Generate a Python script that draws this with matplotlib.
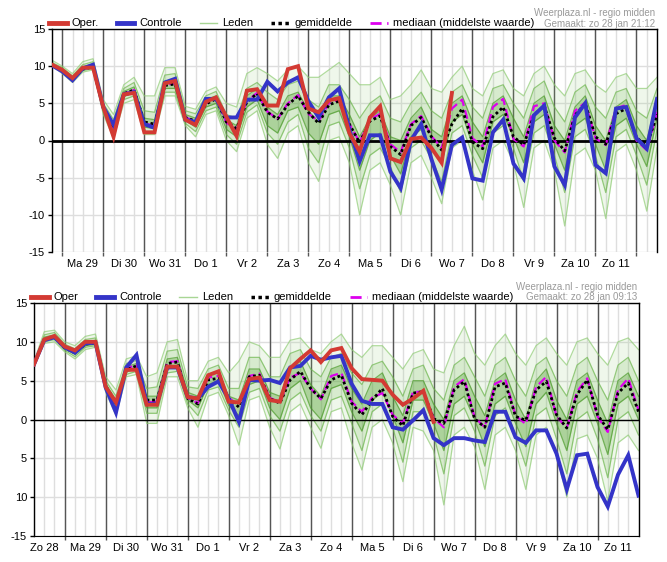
import numpy as np
import matplotlib
matplotlib.use('Agg')
import matplotlib.pyplot as plt
from matplotlib.lines import Line2D

plt.rcParams['font.family'] = ['Liberation Sans', 'DejaVu Sans']

# ---------------- data: top panel (6-hourly, start Zo 28 18:00) ----------------
top_start_day = -0.25
top_days = ['Ma 29', 'Di 30', 'Wo 31', 'Do 1', 'Vr 2', 'Za 3', 'Zo 4', 'Ma 5',
            'Di 6', 'Wo 7', 'Do 8', 'Vr 9', 'Za 10', 'Zo 11']
top_oper = [10.2, 9.5, 8.4, 9.8, 9.8, 4.5, 0.5, 6.2, 6.4, 1.1,
            1.1, 7.7, 8.0, 2.8, 2.1, 5.2, 5.8, 3.2, 0.6, 6.7,
            6.9, 4.7, 4.7, 9.6, 10.0, 4.3, 3.8, 5.4, 5.7, 1.0,
            -1.5, 3.1, 4.6, -2.4, -2.9, 0.2, 0.4, -1.0, -3.0, 6.4]
top_ctrl = [10.1, 9.3, 8.1, 9.7, 10.2, 4.5, 2.1, 6.2, 6.5, 2.2,
            1.7, 7.8, 8.3, 2.8, 2.5, 5.6, 5.6, 3.1, 3.1, 5.5,
            5.5, 7.9, 6.6, 7.8, 8.5, 5.3, 3.1, 5.8, 7.0, 1.5,
            -2.8, 0.7, 0.7, -4.2, -6.4, 0.0, 2.2, -2.5, -6.6, -0.6,
            0.4, -5.1, -5.4, 1.1, 2.8, -3.1, -5.1, 3.4, 4.7, -3.5,
            -6.0, 3.1, 5.0, -3.3, -4.4, 4.3, 4.5, 0.3, -1.1, 5.6]
top_mean = [10.1, 9.4, 8.2, 9.6, 9.9, 4.4, 1.8, 6.3, 6.8, 2.5,
            2.2, 7.4, 7.6, 3.1, 2.6, 4.9, 5.6, 2.5, 1.6, 5.2,
            6.3, 3.8, 2.9, 4.8, 6.0, 3.8, 2.3, 4.8, 5.3, 2.2,
            -0.3, 2.6, 3.3, -0.8, -1.9, 2.0, 3.1, 0.5, -1.3, 2.2,
            4.3, -0.2, -1.1, 3.2, 4.5, 0.5, -0.6, 3.4, 4.7, 0.3,
            -1.4, 3.4, 5.0, 0.5, -0.5, 3.6, 4.3, 0.4, -0.8, 3.5]
top_median = [10.1, 9.4, 8.2, 9.6, 9.9, 4.4, 1.7, 6.3, 6.8, 2.3,
              2.0, 7.5, 7.7, 3.1, 2.6, 5.0, 5.7, 2.4, 1.5, 5.3,
              6.4, 3.9, 2.9, 5.0, 6.1, 3.6, 2.6, 5.0, 5.5, 2.2,
              -0.2, 2.8, 3.6, -0.5, -1.6, 2.2, 3.3, 0.6, -1.0, 4.3,
              5.5, 0.3, -0.8, 4.5, 5.6, 0.2, -0.8, 4.6, 5.0, 0.0,
              -1.6, 4.0, 5.1, 0.3, -0.6, 4.3, 4.8, 0.0, -1.3, 3.8]
top_min = [10.0, 9.0, 7.8, 9.2, 9.5, 3.5, 0.3, 5.0, 5.5, 0.8,
           0.8, 6.0, 6.0, 2.0, 0.5, 3.5, 4.0, 0.0, -1.5, 3.0,
           4.0, -0.5, -2.4, 1.0, 2.0, -3.0, -5.5, 0.0, 0.5, -3.0,
           -10.0, -4.0, -3.0, -6.0, -10.0, -3.0, -2.0, -5.0, -8.5, -1.0,
           0.0, -4.0, -8.0, -1.0, 0.0, -3.0, -9.0, -1.0, 0.0, -4.0,
           -11.5, -2.0, -1.0, -4.0, -10.5, -1.5, -0.5, -4.0, -9.5, -1.0]
top_p10 = [10.0, 9.2, 8.0, 9.4, 9.7, 3.8, 0.8, 5.5, 6.0, 1.2,
           1.2, 6.5, 6.5, 2.3, 1.2, 4.0, 4.5, 0.8, -0.5, 3.8,
           4.8, 1.0, -0.5, 2.5, 3.5, -1.0, -3.0, 2.0, 2.5, -1.0,
           -6.5, -2.0, -1.0, -3.5, -7.0, -1.0, 0.0, -2.5, -5.5, 1.0,
           2.0, -2.0, -5.0, 1.0, 2.0, -1.0, -5.5, 1.0, 2.0, -2.0,
           -7.0, 0.5, 1.5, -2.0, -7.0, 0.5, 1.5, -2.0, -6.0, 1.5]
top_p25 = [10.1, 9.3, 8.2, 9.6, 9.9, 4.1, 1.3, 5.9, 6.5, 1.8,
           1.6, 7.0, 7.0, 2.7, 1.8, 4.5, 5.0, 1.5, 0.5, 4.5,
           5.5, 2.0, 1.0, 4.0, 4.5, 1.0, -0.5, 3.5, 4.0, 0.5,
           -4.0, 0.0, 1.0, -2.0, -4.5, 0.5, 1.5, -1.0, -3.0, 2.5,
           3.5, -0.5, -3.0, 2.5, 3.5, 0.5, -3.0, 2.5, 3.5, -0.5,
           -4.0, 2.0, 3.0, -0.5, -4.0, 2.0, 3.0, -0.5, -3.5, 3.0]
top_p75 = [10.3, 9.6, 8.5, 9.9, 10.3, 4.6, 2.2, 6.6, 7.2, 3.0,
           2.8, 8.0, 8.2, 3.5, 3.0, 5.5, 6.0, 2.8, 2.0, 6.0,
           7.0, 4.5, 3.5, 6.0, 6.5, 4.0, 2.5, 6.0, 6.0, 3.5,
           0.5, 3.0, 4.0, 0.5, 0.0, 3.0, 4.5, 1.5, 0.5, 5.0,
           6.0, 2.5, 0.5, 5.0, 6.0, 3.0, 0.5, 5.0, 6.0, 2.0,
           0.0, 4.5, 6.0, 2.0, 0.0, 4.5, 5.5, 2.0, 0.0, 5.5]
top_p90 = [10.5, 9.8, 8.7, 10.2, 10.6, 5.0, 2.8, 7.0, 7.8, 4.0,
           3.8, 8.8, 9.0, 4.0, 3.6, 6.0, 6.6, 3.5, 3.0, 7.0,
           7.8, 6.5, 5.5, 7.5, 8.0, 5.5, 4.5, 7.5, 7.5, 5.5,
           3.0, 5.0, 6.0, 3.0, 2.5, 5.0, 6.5, 4.0, 3.0, 6.5,
           7.5, 4.5, 3.0, 7.0, 7.5, 5.0, 3.0, 7.0, 8.0, 4.5,
           2.5, 6.5, 7.5, 4.5, 3.0, 6.5, 7.0, 4.0, 3.0, 7.0]
top_max = [10.8, 10.0, 9.0, 10.6, 11.0, 5.5, 3.5, 7.5, 8.5, 6.0,
           6.0, 9.8, 9.8, 4.6, 4.2, 6.6, 7.2, 5.0, 4.5, 9.0,
           9.8, 9.0, 8.0, 9.5, 10.0, 8.5, 8.5, 9.5, 10.5, 9.0,
           7.5, 7.5, 8.5, 5.5, 6.0, 7.5, 9.5, 7.0, 6.5, 8.5,
           10.0, 7.0, 6.0, 9.0, 9.5, 7.0, 6.0, 9.0, 10.0, 7.5,
           6.0, 9.0, 9.5, 7.5, 6.5, 8.5, 9.0, 7.0, 7.0, 8.5]

# ---------------- data: bottom panel (6-hourly, start Zo 28 06:00) ----------------
bot_start_day = -0.75
bot_days = ['Zo 28', 'Ma 29', 'Di 30', 'Wo 31', 'Do 1', 'Vr 2', 'Za 3', 'Zo 4',
            'Ma 5', 'Di 6', 'Wo 7', 'Do 8', 'Vr 9', 'Za 10', 'Zo 11']
bot_oper = [7.1, 10.3, 10.75, 9.4, 8.9, 10.0, 10.0, 4.2, 2.2, 6.4,
            6.4, 1.9, 1.9, 6.8, 6.8, 2.9, 2.7, 5.7, 6.2, 2.3,
            2.2, 5.2, 5.4, 2.5, 2.3, 6.6, 7.8, 8.9, 7.4, 8.9,
            9.2, 6.6, 5.2, 5.1, 5.0, 3.2, 1.9, 2.7, 3.7, -0.3]
bot_ctrl = [7.1, 10.2, 10.6, 9.3, 8.6, 9.8, 9.9, 4.1, 0.9, 6.7,
            8.3, 2.0, 2.0, 6.7, 6.7, 2.9, 2.7, 4.2, 4.9, 2.7,
            -0.3, 5.1, 5.0, 5.1, 4.7, 6.7, 6.9, 8.2, 7.7, 8.0,
            8.2, 4.6, 2.4, 2.0, 2.0, -1.0, -1.3, -0.1, 1.2, -2.4,
            -3.3, -2.4, -2.4, -2.7, -2.9, 1.0, 1.0, -2.3, -3.0, -1.4,
            -1.4, -4.4, -9.0, -4.6, -4.4, -8.7, -11.2, -7.1, -4.6, -9.8]
bot_mean = [7.1, 10.3, 10.6, 9.2, 8.6, 9.7, 9.9, 4.3, 2.1, 6.4,
            6.9, 2.5, 2.5, 7.2, 7.4, 2.7, 2.0, 5.1, 5.3, 2.7,
            1.6, 5.5, 5.7, 2.7, 2.1, 5.1, 6.2, 4.0, 2.7, 5.1,
            5.7, 2.1, 0.6, 2.5, 4.0, 0.4, -0.8, 3.4, 3.6, 0.1,
            -0.5, 3.8, 4.9, 0.1, -1.0, 4.2, 4.7, 0.4, -0.1, 3.8,
            4.9, 0.6, -1.1, 3.2, 5.1, 0.6, -1.3, 3.4, 4.7, 1.0]
bot_median = [7.1, 10.3, 10.6, 9.2, 8.6, 9.7, 9.9, 4.3, 2.0, 6.5,
              7.1, 2.2, 2.3, 7.4, 7.5, 2.8, 2.1, 5.4, 5.6, 2.8,
              1.8, 5.6, 5.9, 2.8, 2.2, 5.4, 6.0, 4.0, 2.6, 5.6,
              6.0, 2.3, 1.0, 2.8, 3.4, 0.6, -0.5, 3.6, 3.5, 0.2,
              -1.0, 4.2, 5.2, 0.3, -1.0, 4.6, 5.2, 0.5, -0.6, 4.2,
              5.5, 0.4, -1.1, 3.6, 5.3, 0.4, -1.6, 3.8, 5.3, 1.2]
bot_min = [6.8, 9.8, 10.0, 8.7, 7.8, 9.0, 9.3, 3.5, 0.5, 5.5,
           5.8, -0.5, -0.5, 5.5, 5.5, 1.5, -1.0, 3.0, 3.5, 0.5,
           -3.3, 2.5, 3.0, -1.0, -3.8, 1.0, 2.0, -1.0, -3.7, 1.0,
           1.5, -3.0, -6.5, -1.0, 0.0, -3.0, -8.0, -1.0, -1.5, -4.0,
           -11.0, -2.0, -1.0, -3.5, -9.0, -2.0, -1.0, -4.0, -9.0, -2.0,
           -1.0, -4.5, -10.0, -2.5, -2.0, -5.0, -10.5, -3.0, -2.0, -4.0]
bot_p10 = [7.0, 10.0, 10.3, 8.9, 8.1, 9.3, 9.5, 3.8, 1.2, 5.8,
           6.2, 0.8, 0.8, 6.0, 6.2, 2.0, 0.5, 3.8, 4.2, 1.2,
           -1.0, 3.5, 4.0, 0.5, -1.5, 2.5, 3.5, 0.5, -1.5, 2.5,
           3.0, -0.5, -4.0, 1.0, 2.0, -1.0, -5.5, 1.0, 1.0, -2.0,
           -7.0, 0.5, 1.5, -1.5, -6.0, 0.5, 1.5, -2.0, -6.0, 0.5,
           1.5, -2.5, -7.0, 0.0, 1.0, -2.5, -7.5, 0.0, 1.0, -2.0]
bot_p25 = [7.0, 10.2, 10.5, 9.1, 8.4, 9.5, 9.7, 4.1, 1.7, 6.1,
           6.6, 1.5, 1.5, 6.5, 6.8, 2.5, 1.5, 4.5, 5.0, 1.8,
           0.5, 4.5, 5.0, 1.5, 0.0, 4.0, 5.0, 1.5, 0.0, 4.0,
           4.5, 1.0, -1.5, 2.5, 3.5, 0.5, -3.0, 2.5, 2.5, -0.5,
           -4.0, 2.0, 3.0, 0.0, -3.5, 2.0, 3.0, -0.5, -3.5, 2.0,
           3.5, -0.5, -4.0, 2.0, 3.0, -0.5, -4.5, 2.0, 3.0, 0.0]
bot_p75 = [7.2, 10.6, 10.9, 9.5, 8.8, 10.0, 10.2, 4.6, 2.5, 6.8,
           7.2, 3.0, 3.0, 7.8, 8.0, 3.5, 3.0, 5.8, 6.2, 3.0,
           2.5, 6.5, 6.5, 3.5, 3.0, 6.5, 7.5, 4.5, 3.0, 6.5,
           7.0, 4.0, 2.0, 5.0, 6.0, 3.0, 0.5, 5.0, 5.0, 2.0,
           0.0, 5.0, 6.0, 3.0, 0.5, 5.0, 6.0, 2.5, 0.0, 5.0,
           6.5, 2.5, 0.0, 5.0, 6.0, 2.5, -0.5, 5.0, 6.0, 3.0]
bot_p90 = [7.3, 10.9, 11.2, 9.7, 9.1, 10.3, 10.5, 5.0, 3.0, 7.2,
           7.6, 4.0, 4.2, 8.8, 9.0, 4.2, 4.0, 6.5, 7.0, 4.0,
           4.0, 8.0, 8.0, 5.5, 5.5, 8.5, 9.0, 6.5, 5.5, 8.0,
           8.5, 6.0, 4.5, 7.0, 7.5, 5.5, 3.0, 6.5, 7.0, 4.0,
           2.5, 7.0, 8.0, 5.5, 3.0, 7.0, 8.0, 5.0, 3.0, 7.0,
           8.0, 5.0, 3.0, 7.0, 8.0, 5.0, 2.5, 7.0, 8.0, 5.0]
bot_max = [7.5, 11.3, 11.5, 10.0, 9.5, 10.7, 11.0, 5.5, 3.8, 7.8,
           8.2, 5.5, 6.0, 10.0, 10.3, 5.0, 5.0, 7.5, 8.0, 6.0,
           7.5, 10.0, 9.5, 8.0, 8.0, 10.2, 10.5, 9.0, 8.5, 10.0,
           11.0, 9.0, 8.0, 9.5, 9.5, 8.0, 6.5, 8.5, 9.0, 6.5,
           6.0, 9.5, 12.0, 8.5, 7.0, 9.5, 11.0, 8.5, 7.0, 9.5,
           10.5, 8.5, 7.0, 10.0, 10.5, 8.5, 7.0, 10.0, 10.5, 9.0]

y_ticks = [-15, -10, -5, 0, 5, 10, 15]
top_ylabels = ['-15', '-10', '-5', '0', '5', '10', '15']
bot_ylabels = ['-15', '10', '5', '0', '5', '10', '15']

RED = '#d33a33'
BLUE = '#3434c8'
MAG = '#dd00ee'
GREEN_L = '#8fcc74'
GREEN_M = '#6cb64c'
GREEN_D = '#4a9a28'

W, H = 667, 562
fig = plt.figure(figsize=(W / 100, H / 100), dpi=100)
ax1 = fig.add_axes([52 / W, 1 - 252 / H, 605 / W, 223 / H])
ax2 = fig.add_axes([34 / W, 1 - 536 / H, 604.5 / W, 233 / H])


def panel(ax, start, label_start, labels, mn, p10, p25, p75, p90, mx,
          med, mean, ctrl, oper, x_end, zero_lw, legend_labels, bottom_spine):
    n = len(mean)
    x = start + 0.25 * np.arange(n)
    ax.set_xlim(start, x_end)
    ax.set_ylim(-15, 15)
    # grids
    for q in np.arange(np.ceil(start * 4) / 4, x_end + 1e-6, 0.25):
        ax.axvline(q, color='#dedede', lw=1, zorder=0)
    for yv in y_ticks:
        ax.axhline(yv, color='#dedede', lw=1, zorder=0)
    days = np.arange(0, np.floor(x_end - 1e-6) + 1)
    for d in days:
        ax.axvline(d, color='#555555', lw=1, zorder=0.5)
    # members envelope
    ax.fill_between(x, mn, mx, color=GREEN_L, alpha=0.14, lw=0, zorder=1)
    ax.fill_between(x, p10, p90, color=GREEN_M, alpha=0.18, lw=0, zorder=1)
    ax.fill_between(x, p25, p75, color=GREEN_D, alpha=0.30, lw=0, zorder=1)
    for arr, c, a in [(mn, GREEN_L, 0.7), (p10, GREEN_M, 0.7), (p25, GREEN_D, 0.7),
                      (p75, GREEN_D, 0.7), (p90, GREEN_M, 0.7), (mx, GREEN_L, 0.7)]:
        ax.plot(x, arr, color=c, lw=0.9, alpha=a, zorder=1.2)
    ax.axhline(0, color='black', lw=zero_lw, zorder=2)
    ax.plot(x, med, color=MAG, lw=1.6, ls=(0, (4, 2)), zorder=3)
    ax.plot(x, mean, color='black', lw=2.0, ls=(0, (1, 1)), zorder=3.5)
    ax.plot(x, ctrl, color=BLUE, lw=2.8, zorder=4, solid_joinstyle='miter')
    ax.plot(x[:len(oper)], oper, color=RED, lw=2.8, zorder=5, solid_joinstyle='miter')
    # ticks
    ax.set_yticks(y_ticks)
    ax.tick_params(axis='y', length=3, width=1, labelsize=8, pad=2)
    ax.set_xticks(days)
    ax.set_xticklabels([])
    ax.tick_params(axis='x', which='major', length=3, width=1, color='#555555')
    lab_pos = label_start + np.arange(len(labels))
    ax.set_xticks(lab_pos, labels, minor=True)
    ax.tick_params(axis='x', which='minor', length=0, labelsize=8, pad=5)
    for s in ['top', 'left', 'right']:
        ax.spines[s].set_color('black')
        ax.spines[s].set_linewidth(1)
    ax.spines['bottom'].set_visible(bottom_spine)
    handles = [Line2D([], [], color=RED, lw=3.5),
               Line2D([], [], color=BLUE, lw=3.5),
               Line2D([], [], color='#a8d694', lw=1),
               Line2D([], [], color='black', lw=2.5, ls=(0, (1, 1))),
               Line2D([], [], color=MAG, lw=2, ls=(0, (4, 2, 1, 2)))]
    ax.legend(handles, legend_labels, ncol=5, loc='lower left',
              bbox_to_anchor=(-0.008, 0.995), frameon=False, fontsize=8,
              handlelength=1.6, handletextpad=0.45, columnspacing=1.6,
              borderaxespad=0, borderpad=0.15)


panel(ax1, top_start_day, 0.5, top_days, top_min, top_p10, top_p25, top_p75,
      top_p90, top_max, top_median, top_mean, top_ctrl, top_oper, 14.5, 2.0,
      ['Oper.', 'Controle', 'Leden', 'gemiddelde', 'mediaan (middelste waarde)'], False)
ax1.set_yticklabels(top_ylabels)

panel(ax2, bot_start_day, -0.5, bot_days, bot_min, bot_p10, bot_p25, bot_p75,
      bot_p90, bot_max, bot_median, bot_mean, bot_ctrl, bot_oper, 14.0, 1.0,
      ['Oper', 'Controle', 'Leden', 'gemiddelde', 'mediaan (middelste waarde)'], True)
ax2.set_yticklabels(bot_ylabels)
ax2.spines['bottom'].set_color('black')

gray = '#9a9a9a'
fig.text(655 / W, 1 - 13 / H, 'Weerplaza.nl - regio midden', ha='right', va='center',
         fontsize=7, color=gray)
fig.text(655 / W, 1 - 24 / H, 'Gemaakt: zo 28 jan 21:12', ha='right', va='center',
         fontsize=7, color=gray)
fig.text(637 / W, 1 - 287 / H, 'Weerplaza.nl - regio midden', ha='right', va='center',
         fontsize=7, color=gray)
fig.text(637 / W, 1 - 297 / H, 'Gemaakt: zo 28 jan 09:13', ha='right', va='center',
         fontsize=7, color=gray)

fig.savefig('out.png', dpi=100)
